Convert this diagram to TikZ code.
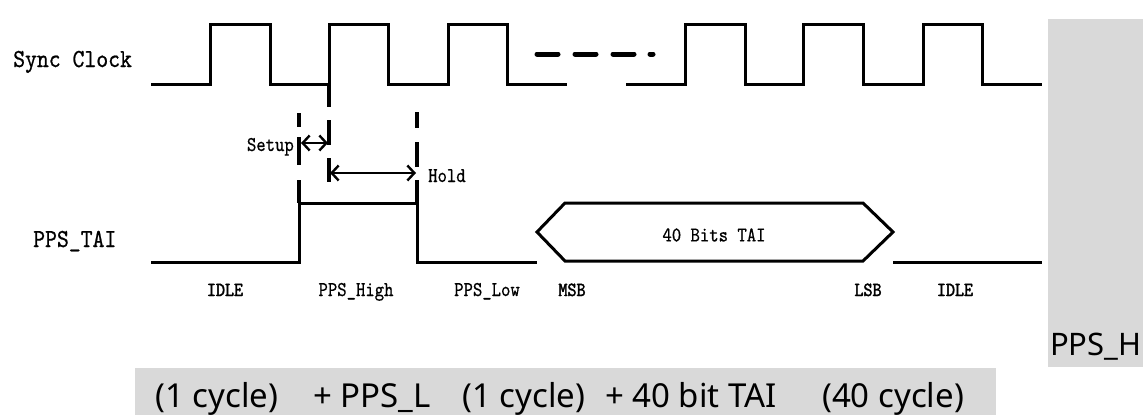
\documentclass[tikz,border=0pt]{standalone}
\usepackage{fontspec}
\newfontfamily\capfont{Noto Sans}
\newfontfamily\lblfont{lmmono10-regular}[Extension=.otf,FakeBold=0.8,FakeStretch=0.87]
\newfontfamily\lblsmall{lmmono10-regular}[Extension=.otf,FakeBold=0.6,FakeStretch=0.85]
\newfontfamily\lblbold{lmmono10-regular}[Extension=.otf,FakeBold=2,FakeStretch=0.86]
\usetikzlibrary{arrows.meta}
\begin{document}
\begin{tikzpicture}[x=1pt,y=-1pt,
  sig/.style={line width=3pt,line join=miter,line cap=butt},
  vdash/.style={line width=4pt},
  dimarrow/.style={line width=2.4pt,{Straight Barb[length=7pt,width=15pt,line width=2.4pt]}-{Straight Barb[length=7pt,width=15pt,line width=2.4pt]}},
  siglabel/.style={font=\fontsize{26}{26}\lblfont,inner sep=0pt},
  small/.style={font=\fontsize{21}{21}\lblsmall,inner sep=0pt},
  state/.style={font=\fontsize{20}{20}\lblbold,inner sep=0pt,anchor=base},
  stateplain/.style={font=\fontsize{21}{21}\lblsmall,inner sep=0pt,anchor=base},
  graybox/.style={fill=black!15,draw=none},
  captext/.style={font=\fontsize{33}{33}\capfont,inner sep=0pt,anchor=base west}]
\useasboundingbox (0,0) rectangle (1143,415);
% gray boxes
\fill[graybox] (1048,19) rectangle (1143,367);
\fill[graybox] (135,368) rectangle (996,415);
\node[captext,font=\fontsize{31}{31}\capfont] (ph) at (1050,355) {PPS\_H};
\node[captext] (c1) at (155,407) {(1 cycle)};
\node[captext] (c2) at (313,407) {+ PPS\_L};
\node[captext] (c3) at (462,407) {(1 cycle)};
\node[captext] (c4) at (605,407) {+ 40 bit TAI};
\node[captext] (c5) at (822,407) {(40 cycle)};
% labels
\node[siglabel,anchor=base west] (sc) at (13,67) {Sync Clock};
\node[siglabel,anchor=base west] (pt) at (33,247) {PPS\_TAI};
% clock
\draw[sig] (151,84) -- (210,84) -- (210,24) -- (270,24) -- (270,84) -- (329,84) -- (329,24) -- (388,24) -- (388,84) -- (448,84) -- (448,24) -- (507,24) -- (507,84) -- (567,84);
\draw[sig] (626,84) -- (685,84) -- (685,24) -- (745,24) -- (745,84) -- (803,84) -- (803,24) -- (863,24) -- (863,84) -- (923,84) -- (923,24) -- (982,24) -- (982,84) -- (1042,84);
\draw[line width=5pt,line cap=round] (537,54) -- (558,54) (575,54) -- (596,54) (613,54) -- (634,54) (650,54) -- (653,54);
% PPS_TAI
\draw[sig] (151,262) -- (299,262) -- (299,203) -- (417,203) -- (417,262) -- (537,262);
\draw[sig] (537,232) -- (565,203) -- (863,203) -- (893,232) -- (863,261) -- (565,261) -- cycle;
\draw[sig] (893,262) -- (1042,262);
\node[small] (bits) at (714,235) {40 Bits TAI};
% dashed marks
\draw[vdash] (299,113) -- (299,127) (299,137) -- (299,165) (299,180) -- (299,203);
\draw[vdash] (329,84) -- (329,107) (329,120) -- (329,145) (329,158) -- (329,182);
\draw[vdash] (417,112) -- (417,128) (417,142) -- (417,167) (417,180) -- (417,203);
\coordinate (s1) at (301,143);
\coordinate (s2) at (328,143);
\coordinate (h1) at (330,173);
\coordinate (h2) at (416,173);
\draw[dimarrow] (s1) -- (s2);
\draw[dimarrow] (h1) -- (h2);
\node[small,anchor=base east] (setup) at (294,151) {Setup};
\node[small,anchor=base west] (hold) at (428,182) {Hold};
% state labels
\node[state] (i1) at (225,296) {IDLE};
\node[stateplain] (ph1) at (356,296) {PPS\_High};
\node[stateplain] (pl1) at (487,296) {PPS\_Low};
\node[state] (msb) at (572,296) {MSB};
\node[state] (lsb) at (868,296) {LSB};
\node[state] (i2) at (955,296) {IDLE};
\end{tikzpicture}
\end{document}
